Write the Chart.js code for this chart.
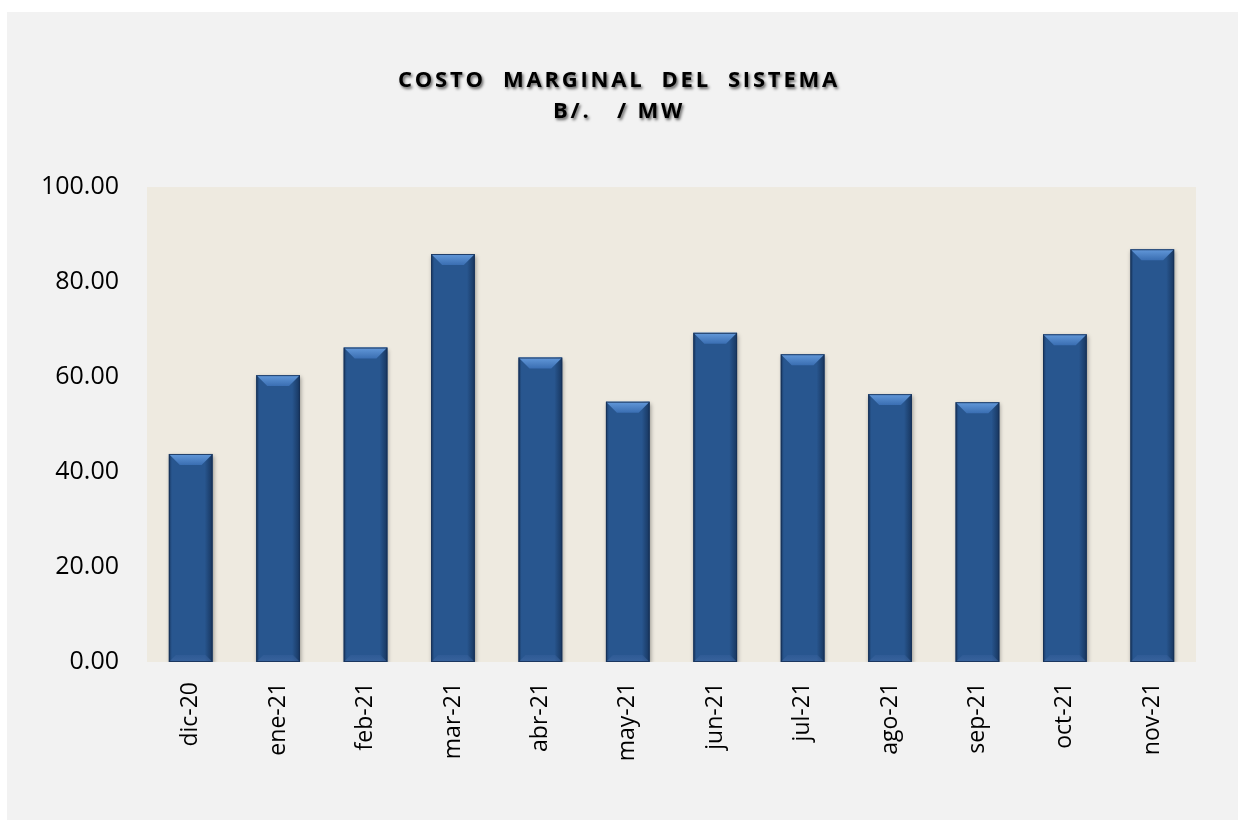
<!DOCTYPE html>
<html>
<head>
<meta charset="utf-8">
<script src="https://cdn.jsdelivr.net/npm/chart.js@4.4.1/dist/chart.umd.min.js"></script>
<style>
html,body{margin:0;padding:0;background:#ffffff;}
#bg{position:absolute;left:7px;top:12px;width:1231px;height:808px;background:#f2f2f2;}
#wrap{position:absolute;left:0;top:0;width:1238px;height:820px;}
</style>
</head>
<body>
<div id="bg"></div>
<div id="wrap"><canvas id="c" width="1238" height="820"></canvas></div>
<script>
const categories = ['dic-20','ene-21','feb-21','mar-21','abr-21','may-21','jun-21','jul-21','ago-21','sep-21','oct-21','nov-21'];
const costoMarginal = [43.8, 60.4, 66.2, 85.9, 64.1, 54.8, 69.3, 64.8, 56.4, 54.7, 69.0, 86.9];
const yTickValues = [0, 20, 40, 60, 80, 100];
const titleLines = ['COSTO  MARGINAL  DEL  SISTEMA', 'B/.   / MW'];

Chart.defaults.font.family = "'Open Sans', 'DejaVu Sans', sans-serif";
Chart.defaults.color = '#000';

const plotBg = {
  id: 'plotBg',
  beforeDraw(chart) {
    const {ctx, chartArea: a} = chart;
    ctx.save();
    ctx.fillStyle = '#eeeae0';
    ctx.fillRect(a.left, a.top, a.right - a.left, a.bottom - a.top);
    ctx.restore();
  }
};

function patchTitle(chart) {
  const tb = chart.titleBlock;
  if (!tb || tb._patched) return;
  const orig = tb.draw.bind(tb);
  tb.draw = function (area) {
    const ctx = chart.ctx;
    ctx.save();
    // center the title on the whole canvas rather than on the padded box
    ctx.translate(chart.width / 2 - (tb.left + tb.right) / 2, 0);
    ctx.letterSpacing = '2.8px';
    ctx.shadowColor = 'rgba(0,0,0,0.6)';
    ctx.shadowBlur = 3;
    ctx.shadowOffsetX = 1.5;
    ctx.shadowOffsetY = 2;
    orig(area);
    ctx.restore();
  };
  tb._patched = true;
}
const titleStyle = {
  id: 'titleStyle',
  afterInit(chart) { patchTitle(chart); },
  beforeUpdate(chart) { patchTitle(chart); }
};

const bevel = {
  id: 'bevel',
  beforeDatasetsDraw(chart) {
    const ctx = chart.ctx;
    ctx.save();
    ctx.shadowColor = 'rgba(0,0,0,0.35)';
    ctx.shadowBlur = 4;
    ctx.shadowOffsetX = 1;
    ctx.shadowOffsetY = 2;
  },
  afterDatasetsDraw(chart) {
    const ctx = chart.ctx;
    ctx.restore();
    const meta = chart.getDatasetMeta(0);
    meta.data.forEach(bar => {
      const p = bar.getProps(['x', 'y', 'width', 'base'], true);
      const l = p.x - p.width / 2, r = p.x + p.width / 2, t = p.y, b = p.base, w = p.width;
      const d = Math.min(11, (b - t) / 3);
      const db = Math.min(7, (b - t) / 4);
      ctx.save();
      // side shading
      const g = ctx.createLinearGradient(l, 0, r, 0);
      g.addColorStop(0, 'rgba(12,32,62,0.55)');
      g.addColorStop(0.07, 'rgba(12,32,62,0.0)');
      g.addColorStop(0.82, 'rgba(12,32,62,0.0)');
      g.addColorStop(1, 'rgba(12,32,62,0.6)');
      ctx.fillStyle = g;
      ctx.fillRect(l, t, w, b - t);
      // top bevel
      ctx.beginPath();
      ctx.moveTo(l, t); ctx.lineTo(r, t); ctx.lineTo(r - d, t + d); ctx.lineTo(l + d, t + d); ctx.closePath();
      const g2 = ctx.createLinearGradient(0, t, 0, t + d);
      g2.addColorStop(0, '#6399da');
      g2.addColorStop(1, '#3a6eb2');
      ctx.fillStyle = g2;
      ctx.fill();
      // bottom bevel
      ctx.beginPath();
      ctx.moveTo(l, b); ctx.lineTo(r, b); ctx.lineTo(r - db, b - db); ctx.lineTo(l + db, b - db); ctx.closePath();
      const g3 = ctx.createLinearGradient(0, b - db, 0, b);
      g3.addColorStop(0, 'rgba(60,100,160,0.35)');
      g3.addColorStop(1, 'rgba(70,110,170,0.55)');
      ctx.fillStyle = g3;
      ctx.fill();
      // outline
      ctx.strokeStyle = 'rgba(22,48,86,0.85)';
      ctx.lineWidth = 1;
      ctx.strokeRect(l + 0.5, t + 0.5, w - 1, b - t - 1);
      ctx.restore();
    });
  }
};

new Chart(document.getElementById('c'), {
  type: 'bar',
  data: {
    labels: categories,
    datasets: [{
      label: 'Costo marginal',
      data: costoMarginal,
      backgroundColor: '#28568f',
      borderWidth: 0,
      barPercentage: 0.5,
      categoryPercentage: 1.0
    }]
  },
  options: {
    responsive: false,
    animation: false,
    devicePixelRatio: 1,
    layout: { padding: { top: 1, right: 42, bottom: 0, left: 0 } },
    plugins: {
      legend: { display: false },
      tooltip: { enabled: false },
      title: {
        display: true,
        text: titleLines,
        color: '#000',
        font: { family: "'Open Sans', sans-serif", size: 22, weight: 'bold', lineHeight: 1.41 },
        padding: { top: 64, bottom: 60 }
      }
    },
    scales: {
      x: {
        grid: { display: false, drawTicks: false },
        border: { display: false },
        ticks: { minRotation: 90, maxRotation: 90, padding: 20, color: '#000', font: { size: 23 } },
        afterFit(s) { s.height = 158; }
      },
      y: {
        min: 0, max: 100,
        afterBuildTicks(s) { s.ticks = yTickValues.map(v => ({ value: v })); },
        grid: { display: false, drawTicks: false },
        border: { display: false },
        ticks: { padding: 28, color: '#000', font: { size: 25 }, callback: v => Number(v).toFixed(2) },
        afterFit(s) { s.width = 147; }
      }
    }
  },
  plugins: [plotBg, titleStyle, bevel]
});
</script>
</body>
</html>
